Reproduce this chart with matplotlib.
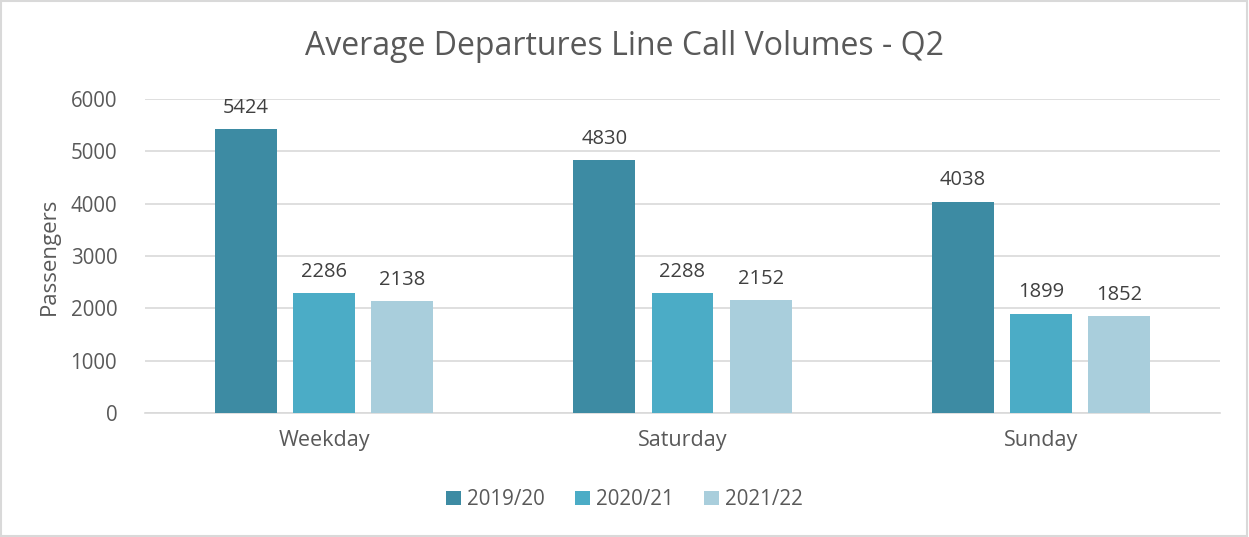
import numpy as np
import matplotlib.pyplot as plt
from matplotlib.patches import Rectangle

categories = ['Weekday', 'Saturday', 'Sunday']
series_names = ['2019/20', '2020/21', '2021/22']
vals_2019 = [5424, 4830, 4038]
vals_2020 = [2286, 2288, 1899]
vals_2021 = [2138, 2152, 1852]
colors = ['#3D8BA3', '#4BACC6', '#A9CEDC']

plt.rcParams['font.family'] = ['Open Sans', 'DejaVu Sans']
text_color = '#595959'

fig = plt.figure(figsize=(12.49, 5.37), dpi=100)
ax = fig.add_axes([145 / 1249, 1 - 413 / 537, 1075 / 1249, 314 / 537])

x = np.arange(len(categories))
width = 0.173
offset = 0.218
for i, (vals, name) in enumerate(zip([vals_2019, vals_2020, vals_2021], series_names)):
    bars = ax.bar(x + (i - 1) * offset, vals, width, color=colors[i], label=name, zorder=3)
    for b, v in zip(bars, vals):
        ax.text(b.get_x() + b.get_width() / 2, v + 220, str(v), ha='center', va='bottom',
                fontsize=14.5, color='#404040')

ax.set_xlim(-0.5, 2.5)
ax.set_ylim(0, 6000)
ax.set_yticks(range(0, 6001, 1000))
ax.yaxis.grid(True, color='#D9D9D9', linewidth=1.2, zorder=0)
for s in ['top', 'right', 'left']:
    ax.spines[s].set_visible(False)
ax.spines['bottom'].set_color('#D9D9D9')
ax.spines['bottom'].set_linewidth(1.2)
ax.set_xticks(x)
ax.set_xticklabels(categories, fontsize=15.5)
ax.tick_params(axis='both', length=0, labelcolor=text_color)
ax.tick_params(axis='y', labelsize=14.8, pad=20)
ax.tick_params(axis='x', pad=12)
ax.set_ylabel('Passengers', fontsize=16, color=text_color, labelpad=8)

fig.suptitle('Average Departures Line Call Volumes - Q2', y=0.945, fontsize=23, color=text_color)
fig.legend(loc='lower center', bbox_to_anchor=(0.5, 0.015), ncol=3, frameon=False,
           fontsize=14.8, labelcolor=text_color, handlelength=0.7, handleheight=0.7,
           handletextpad=0.3, columnspacing=1.5)

fig.patches.append(Rectangle((0.001, 0.002), 0.997, 0.996, transform=fig.transFigure,
                             fill=False, edgecolor='#D9D9D9', linewidth=1.5))

fig.savefig('out.png', dpi=100)
